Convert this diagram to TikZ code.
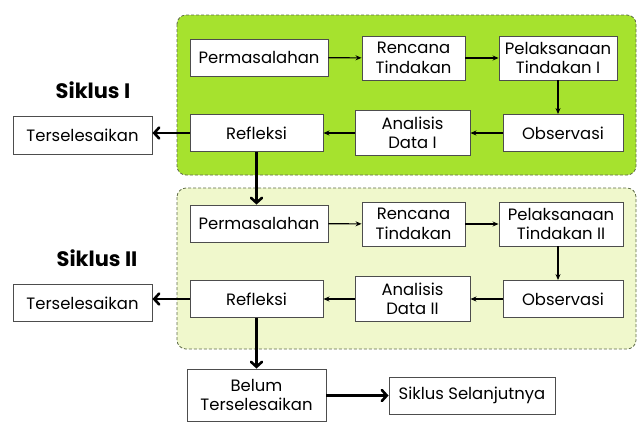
\documentclass[tikz,border=0pt]{standalone}
\usepackage{fontspec}
\setmainfont{Poppins}
\usetikzlibrary{arrows.meta}
\definecolor{limegreen}{HTML}{A6E22E}
\definecolor{palegreen}{HTML}{F0F8CC}
\definecolor{boxline}{HTML}{4D4D4D}
\definecolor{panelline}{HTML}{5E6B48}
\tikzset{
 box/.style={draw=boxline, fill=white, line width=0.9bp, align=center, inner sep=0pt,
  font=\fontsize{16.5}{19.5}\selectfont},
 panel/.style={draw=panelline, dash pattern=on 3bp off 2bp, line width=0.8bp, rounded corners=9bp},
 siklus/.style={font=\fontsize{21}{25}\selectfont\bfseries},
 flow/.style={-{Stealth[length=6bp,width=5bp]}, line width=1.1bp},
 bigflow/.style={-{Straight Barb[length=5bp,width=11bp,line cap=round]}, line width=2.6bp},
}
\begin{document}
\begin{tikzpicture}[x=1bp,y=-1bp]
 \useasboundingbox (0,0) rectangle (637,421);
 % panels
 \draw[panel, fill=limegreen](177,15) rectangle (636,175);
 \draw[panel, fill=palegreen](177,188) rectangle (636,349);
 % siklus I
 \node[box, minimum width=138bp, minimum height=37bp] (perm1) at (259,57.5) {Permasalahan};
 \node[box, minimum width=103bp, minimum height=44bp] (renc1) at (413.5,58) {Rencana\\Tindakan};
 \node[box, minimum width=118bp, minimum height=44bp] (pel1) at (558,58) {Pelaksanaan\\Tindakan I};
 \node[box, minimum width=133bp, minimum height=37bp] (ref1) at (256.5,133) {Refleksi};
 \node[box, minimum width=115bp, minimum height=45bp] (ana1) at (412.5,133) {Analisis\\Data I};
 \node[box, minimum width=120bp, minimum height=37bp] (obs1) at (563,133) {Observasi};
 % siklus II
 \node[box, minimum width=138bp, minimum height=37bp] (perm2) at (259,223.5) {Permasalahan};
 \node[box, minimum width=103bp, minimum height=44bp] (renc2) at (413.5,224) {Rencana\\Tindakan};
 \node[box, minimum width=124bp, minimum height=44bp] (pel2) at (561,224) {Pelaksanaan\\Tindakan II};
 \node[box, minimum width=133bp, minimum height=37bp] (ref2) at (256.5,299) {Refleksi};
 \node[box, minimum width=115bp, minimum height=45bp] (ana2) at (412.5,299) {Analisis\\Data II};
 \node[box, minimum width=120bp, minimum height=37bp] (obs2) at (563,299) {Observasi};
 % left side
 \node[siklus] (lab1) at (93,90) {Siklus I};
 \node[siklus] (lab2) at (97,258) {Siklus II};
 \node[box, minimum width=139bp, minimum height=38bp] (done1) at (82.5,135) {Terselesaikan};
 \node[box, minimum width=139bp, minimum height=37bp] (done2) at (82.5,303) {Terselesaikan};
 % bottom
 \node[box, minimum width=139bp, minimum height=52bp] (belum) at (256.5,395) {Belum\\Terselesaikan};
 \node[box, minimum width=166bp, minimum height=37bp] (next) at (472,395.5) {Siklus Selanjutnya};
 % thin arrows
 \draw[flow](perm1)--(renc1);
 \draw[flow](renc1)--(pel1);
 \draw[flow](pel1.south)--(pel1.south |- obs1.north);
 \draw[flow](obs1)--(ana1);
 \draw[flow](ana1)--(ref1);
 \draw[flow](perm2)--(renc2);
 \draw[flow](renc2)--(pel2);
 \draw[flow](pel2.south -| pel1.south)--(pel1.south |- obs2.north);
 \draw[flow](obs2)--(ana2);
 \draw[flow](ana2)--(ref2);
 % thick arrows
 \draw[bigflow](ref1.west)--(ref1.west -| done1.east);
 \draw[bigflow](ref2.west)--(ref2.west -| done2.east);
 \draw[bigflow](ref1.south)--(perm2.north -| ref1.south);
 \draw[bigflow](ref2.south)--(belum.north);
 \draw[bigflow](belum.east |- next.west)--(next.west);
\end{tikzpicture}
\end{document}
